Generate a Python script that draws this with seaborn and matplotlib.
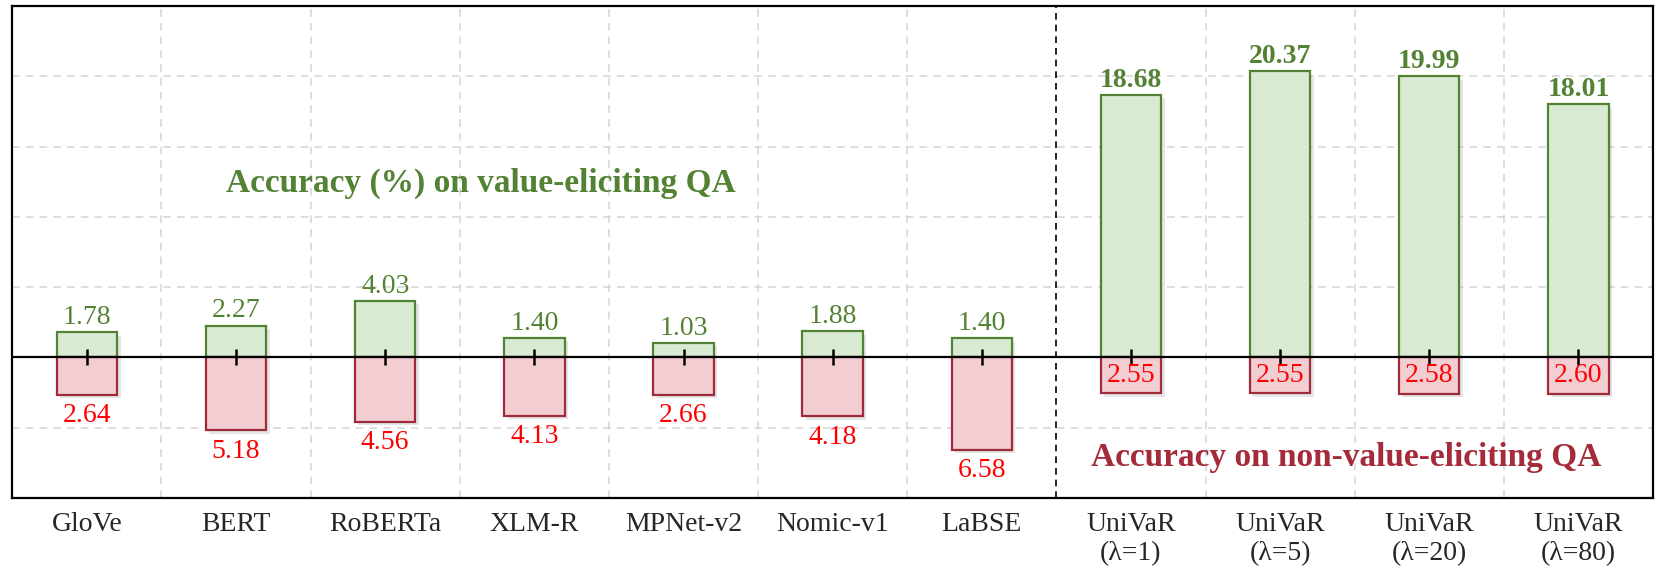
import numpy as np
import pandas as pd
import matplotlib.pyplot as plt
import matplotlib.patheffects as pe
import seaborn as sns

# Data
models = ["GloVe", "BERT", "RoBERTa", "XLM-R", "MPNet-v2", "Nomic-v1", "LaBSE",
          "UniVaR\n(\u03bb=1)", "UniVaR\n(\u03bb=5)", "UniVaR\n(\u03bb=20)", "UniVaR\n(\u03bb=80)"]
value_acc = [1.78, 2.27, 4.03, 1.40, 1.03, 1.88, 1.40, 18.68, 20.37, 19.99, 18.01]
nonvalue_acc = [2.64, 5.18, 4.56, 4.13, 2.66, 4.18, 6.58, 2.55, 2.55, 2.58, 2.60]
n_baselines = 7

green_edge = "#548235"
green_fill = "#d9ead3"
red_edge = "#9e2a3a"
red_fill = "#f2ced3"

df = pd.DataFrame({"model": models, "value": value_acc,
                   "nonvalue": [-v for v in nonvalue_acc]})

sns.set_style("white")
plt.rcParams["font.family"] = ["Liberation Serif", "DejaVu Serif"]

fig = plt.figure(figsize=(16.62, 5.74), dpi=100)
ax = fig.add_axes([0.0074, 0.1324, 0.9872, 0.857])

# grid first so it stays behind the bars
for y in [-5, 0, 5, 10, 15, 20]:
    ax.axhline(y, color="#d4d4d4", lw=1.1, ls=(0, (5, 4)), zorder=0)
for x in np.arange(0.5, len(models) - 1, 1.0):
    if x != n_baselines - 0.5:
        ax.axvline(x, color="#d4d4d4", lw=1.1, ls=(0, (5, 4)), zorder=0)

sns.barplot(data=df, x="model", y="value", color=green_fill, edgecolor=green_edge,
            linewidth=1.6, width=0.405, saturation=1, ax=ax, zorder=2)
sns.barplot(data=df, x="model", y="nonvalue", color=red_fill, edgecolor=red_edge,
            linewidth=1.6, width=0.405, saturation=1, ax=ax, zorder=2)

# faint drop shadow like the original
for p in ax.patches:
    p.set_path_effects([pe.SimplePatchShadow(offset=(2.5, -2.5), alpha=0.1,
                                             shadow_rgbFace="black"), pe.Normal()])

# zero line, separator and centre ticks
ax.axhline(0, color="black", lw=1.6, zorder=3)
ax.axvline(n_baselines - 0.5, color="black", lw=1.2, ls=(0, (4, 3)), zorder=3)
ax.scatter(range(len(models)), [0] * len(models), marker="|", s=120,
           color="black", linewidths=1.8, zorder=4)

# value labels
for i, (g, r) in enumerate(zip(value_acc, nonvalue_acc)):
    bold = i >= n_baselines
    ax.annotate(f"{g:.2f}", (i, g), xytext=(0, 1.5), textcoords="offset points",
                ha="center", va="bottom", fontsize=20, color=green_edge,
                fontweight="bold" if bold else "normal")
    if bold:
        ax.text(i, -r / 2, f"{r:.2f}", ha="center", va="center",
                fontsize=20, color="red", zorder=5)
    else:
        ax.annotate(f"{r:.2f}", (i, -r), xytext=(0, -6), textcoords="offset points",
                    ha="center", va="top", fontsize=20, color="red")

ax.text(2.64, 12.4, "Accuracy (%) on value-eliciting QA", ha="center", va="center",
        fontsize=24, fontweight="bold", color=green_edge)
ax.text(8.44, -7.13, "Accuracy on non-value-eliciting QA", ha="center", va="center",
        fontsize=24, fontweight="bold", color="#a52a3a")

ax.set_xlim(-0.5, 10.5)
ax.set_ylim(-10, 25)
ax.set_yticks([])
ax.set_xlabel("")
ax.set_ylabel("")
ax.tick_params(axis="x", length=0, pad=10, labelsize=20)
for s in ax.spines.values():
    s.set_visible(True)
    s.set_color("black")
    s.set_linewidth(1.6)

fig.savefig("out.png", dpi=100)
